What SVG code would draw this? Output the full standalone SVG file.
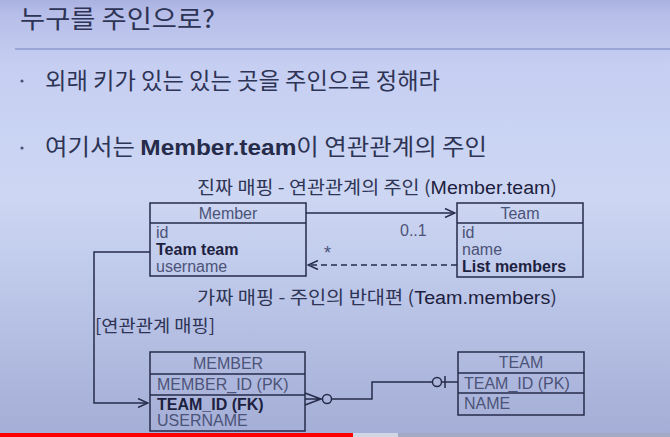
<svg xmlns="http://www.w3.org/2000/svg" width="670" height="437" viewBox="0 0 670 437">
<defs>
<linearGradient id="bg" x1="0" y1="0" x2="0" y2="1">
<stop offset="0" stop-color="#aab2e0"/>
<stop offset="0.03" stop-color="#b6bde8"/>
<stop offset="0.15" stop-color="#c6cff2"/>
<stop offset="0.45" stop-color="#cdd7f3"/>
<stop offset="0.75" stop-color="#b6c0e4"/>
<stop offset="1" stop-color="#a4aed6"/>
</linearGradient>
<marker id="open" viewBox="0 0 12 10" refX="11" refY="5" markerWidth="12" markerHeight="10" markerUnits="userSpaceOnUse" orient="auto">
<path d="M1,0.5 L11,5 L1,9.5" fill="none" stroke="#262b4a" stroke-width="1.5"/>
</marker>
<style>
.k{font-family:"Noto Sans CJK KR","Liberation Sans",sans-serif;fill:#2e3455}
.t{font-family:"Liberation Sans","Noto Sans CJK KR",sans-serif;fill:#2e3455}
.l{fill:#4c5378}
.d{fill:#1d2140}
.b{font-weight:bold}
.box{fill:none;stroke:#262b4a;stroke-width:1.5}
.ln{fill:none;stroke:#262b4a;stroke-width:1.5}
</style>
</defs>
<rect x="0" y="0" width="670" height="437" fill="url(#bg)"/>
<text class="k" x="20" y="28" font-size="25" textLength="195" lengthAdjust="spacingAndGlyphs">누구를 주인으로?</text>
<line x1="15" y1="49" x2="670" y2="49" stroke="#7582c0" stroke-width="1"/>
<circle cx="22" cy="81" r="1.6" fill="#4c5378"/>
<text class="k" x="45" y="89" font-size="22.5" textLength="395" lengthAdjust="spacingAndGlyphs">외래 키가 있는 있는 곳을 주인으로 정해라</text>
<circle cx="22" cy="148" r="1.6" fill="#4c5378"/>
<text class="k" x="45" y="155" font-size="22.5" textLength="442" lengthAdjust="spacingAndGlyphs">여기서는 <tspan class="b" font-family="Liberation Sans" fill="#262b4a">Member.team</tspan>이 연관관계의 주인</text>
<text class="k" x="197" y="194" font-size="18" textLength="360" lengthAdjust="spacingAndGlyphs">진짜 매핑 - 연관관계의 주인 (<tspan font-family="Liberation Sans" fill="#1d2140">Member.team</tspan>)</text>
<text class="k" x="197" y="304" font-size="18" textLength="360" lengthAdjust="spacingAndGlyphs">가짜 매핑 - 주인의 반대편 (<tspan font-family="Liberation Sans" fill="#1d2140">Team.members</tspan>)</text>
<text class="k" x="95" y="332" font-size="17" textLength="120" lengthAdjust="spacingAndGlyphs">[연관관계 매핑]</text>
<g id="Member">
<rect class="box" x="150" y="203" width="156" height="73"/>
<line class="ln" x1="150" y1="223" x2="306" y2="223"/>
<text class="t l" x="228" y="219" font-size="16" text-anchor="middle">Member</text>
<text class="t l" x="156" y="238" font-size="16">id</text>
<text class="t d b" x="156" y="255" font-size="16">Team team</text>
<text class="t l" x="156" y="272" font-size="16">username</text>
</g>
<g id="Team">
<rect class="box" x="457" y="203" width="126" height="74"/>
<line class="ln" x1="457" y1="223" x2="583" y2="223"/>
<text class="t l" x="520" y="219" font-size="16" text-anchor="middle">Team</text>
<text class="t l" x="462" y="238" font-size="16">id</text>
<text class="t l" x="462" y="255" font-size="16">name</text>
<text class="t d b" x="462" y="272" font-size="16">List members</text>
</g>
<g id="MEMBER">
<rect class="box" x="150" y="352" width="155" height="79"/>
<line class="ln" x1="150" y1="374" x2="305" y2="374"/>
<line class="ln" x1="150" y1="395" x2="305" y2="395"/>
<text class="t l" x="228" y="369" font-size="16" text-anchor="middle">MEMBER</text>
<text class="t l" x="157" y="390" font-size="16">MEMBER_ID (PK)</text>
<text class="t d b" x="157" y="410" font-size="16">TEAM_ID (FK)</text>
<text class="t l" x="157" y="426" font-size="16">USERNAME</text>
</g>
<g id="TEAM">
<rect class="box" x="458" y="352" width="126" height="63"/>
<line class="ln" x1="458" y1="373" x2="584" y2="373"/>
<line class="ln" x1="458" y1="393" x2="584" y2="393"/>
<text class="t l" x="521" y="368" font-size="16" text-anchor="middle">TEAM</text>
<text class="t l" x="464" y="389" font-size="16">TEAM_ID (PK)</text>
<text class="t l" x="464" y="409" font-size="16">NAME</text>
</g>
<g id="connectors">
<line class="ln" x1="306" y1="213" x2="455" y2="213" marker-end="url(#open)"/>
<text class="t l" x="400" y="236" font-size="16">0..1</text>
<line class="ln" x1="457" y1="265" x2="308" y2="265" stroke-dasharray="6,4" marker-end="url(#open)"/>
<text class="t l" x="324" y="259" font-size="18">*</text>
<polyline class="ln" points="150,252 94,252 94,403 148,403" marker-end="url(#open)"/>
<path class="ln" d="M305,393 L321,399 L305,405 M305,399 L322,399"/>
<circle cx="327" cy="399" r="4.5" fill="none" stroke="#262b4a" stroke-width="1.5"/>
<polyline class="ln" points="331.5,399 372,399 372,382 432,382"/>
<circle cx="437" cy="382" r="4.5" fill="none" stroke="#262b4a" stroke-width="1.5"/>
<line class="ln" x1="441.5" y1="382" x2="458" y2="382"/>
<line class="ln" x1="445" y1="376" x2="445" y2="388"/>
</g>
<rect x="0" y="433" width="670" height="4" fill="#a3a9c4"/>
<rect x="353" y="433" width="45" height="4" fill="#d2d6e4"/>
<rect x="0" y="433" width="353" height="4" fill="#ff0000"/>
</svg>
